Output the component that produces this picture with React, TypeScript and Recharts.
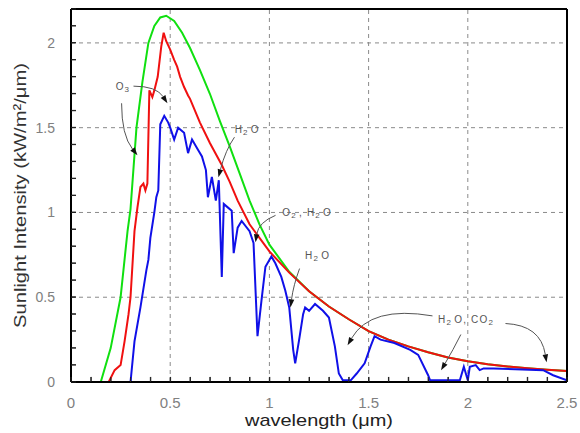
import React from 'react';
import { LineChart, Line, XAxis, YAxis, ReferenceLine, ReferenceDot, Label } from 'recharts';

// ---- Data ----
// Green: blackbody curve
const greenWavelength = [0.15, 0.2, 0.25, 0.285, 0.3, 0.33, 0.36, 0.39, 0.42, 0.45, 0.48, 0.52, 0.56, 0.6, 0.65, 0.7, 0.75, 0.8, 0.85, 0.9, 0.95, 1.0, 1.1, 1.2, 1.3, 1.4, 1.5, 1.6, 1.7, 1.8, 1.9, 2.0, 2.1, 2.2, 2.3, 2.4, 2.5];
const greenIntensity = [0, 0.2, 0.5, 0.89, 1.02, 1.5, 1.77, 2.0, 2.1, 2.15, 2.16, 2.13, 2.06, 1.97, 1.84, 1.7, 1.54, 1.39, 1.23, 1.07, 0.93, 0.81, 0.65, 0.535, 0.445, 0.37, 0.3, 0.25, 0.21, 0.175, 0.145, 0.122, 0.105, 0.092, 0.081, 0.072, 0.065];

// Red: above the atmosphere
const redWavelength = [0.19, 0.22, 0.25, 0.27, 0.29, 0.30, 0.32, 0.335, 0.35, 0.365, 0.375, 0.385, 0.395, 0.41, 0.42, 0.437, 0.455, 0.467, 0.48, 0.50, 0.52, 0.535, 0.55, 0.57, 0.59, 0.60, 0.65, 0.70, 0.76, 0.80, 0.84, 0.90, 0.95, 1.0, 1.1, 1.2, 1.3, 1.4, 1.5, 1.6, 1.7, 1.8, 1.9, 2.0, 2.1, 2.2, 2.3, 2.4, 2.5];
const redIntensity = [0, 0.07, 0.10, 0.24, 0.40, 0.50, 0.89, 1.03, 1.15, 1.17, 1.13, 1.17, 1.72, 1.68, 1.72, 1.80, 1.98, 2.06, 2.01, 1.96, 1.90, 1.86, 1.80, 1.74, 1.69, 1.67, 1.53, 1.41, 1.28, 1.18, 1.07, 0.93, 0.85, 0.77, 0.645, 0.535, 0.445, 0.37, 0.3, 0.25, 0.21, 0.175, 0.145, 0.122, 0.105, 0.092, 0.081, 0.072, 0.065];

// Blue: at sea level
const blueWavelength = [0.30, 0.32, 0.35, 0.38, 0.39, 0.40, 0.42, 0.43, 0.44, 0.45, 0.47, 0.49, 0.50, 0.52, 0.54, 0.57, 0.59, 0.61, 0.64, 0.66, 0.68, 0.69, 0.71, 0.73, 0.745, 0.76, 0.77, 0.79, 0.81, 0.82, 0.84, 0.86, 0.90, 0.92, 0.94, 0.96, 0.98, 1.01, 1.03, 1.06, 1.08, 1.10, 1.12, 1.13, 1.15, 1.17, 1.18, 1.20, 1.23, 1.27, 1.30, 1.33, 1.35, 1.37, 1.41, 1.44, 1.48, 1.51, 1.53, 1.56, 1.63, 1.71, 1.75, 1.80, 1.81, 1.96, 1.98, 2.00, 2.01, 2.04, 2.06, 2.08, 2.13, 2.38, 2.43, 2.50];
const blueIntensity = [0, 0.24, 0.44, 0.66, 0.72, 0.85, 1.0, 1.09, 1.13, 1.52, 1.57, 1.53, 1.50, 1.43, 1.50, 1.47, 1.35, 1.43, 1.37, 1.33, 1.25, 1.09, 1.21, 1.07, 1.19, 0.62, 1.05, 1.03, 1.01, 0.76, 0.91, 0.95, 0.89, 0.82, 0.27, 0.48, 0.68, 0.74, 0.70, 0.62, 0.54, 0.44, 0.19, 0.11, 0.25, 0.40, 0.44, 0.42, 0.46, 0.42, 0.38, 0.21, 0.05, 0.01, 0.01, 0.05, 0.11, 0.21, 0.27, 0.25, 0.23, 0.19, 0.16, 0.04, 0.01, 0.01, 0.09, 0.01, 0.09, 0.10, 0.07, 0.08, 0.08, 0.07, 0.04, 0.01];

// Axis ticks
const xTicks = Array.from({ length: 26 }, (_, i) => i / 10);
const yTicks = Array.from({ length: 23 }, (_, i) => i / 10);
const xGrid = [0.5, 1, 1.5, 2];
const yGrid = [0.5, 1, 1.5, 2];
const X_MAX = 2.5;
const Y_MAX = 2.2;
// inward minor tick mark extents (data units)
const EPS = 0.002;
const xTickLen = 0.03;
const yTickLen = 0.025;

// Annotation labels (data coordinates, "_" marks a subscript digit)
const labelText = ['O_3', 'H_2O', 'O_2, H_2O', 'H_2O', 'H_2O, CO_2'];
const labelX = [0.225, 0.825, 1.065, 1.18, 1.85];
const labelY = [1.745, 1.49, 1.0, 0.75, 0.37];

// Annotation arrows (data coordinates)
const arrowStartX = [0.315, 0.255, 0.824, 1.031, 1.152, 1.822, 1.965, 2.19];
const arrowStartY = [1.745, 1.644, 1.444, 0.983, 0.669, 0.39, 0.28, 0.345];
const arrowCtrlX = [0.43, 0.255, 0.779, 0.945, 1.121, 1.51, 1.925, 2.367];
const arrowCtrlY = [1.745, 1.455, 1.368, 0.942, 0.57, 0.452, 0.187, 0.335];
const arrowTipX = [0.486, 0.335, 0.743, 0.93, 1.106, 1.394, 1.865, 2.397];
const arrowTipY = [1.644, 1.337, 1.208, 0.824, 0.44, 0.217, 0.069, 0.116];

const toRows = (xs: number[], ys: number[]) => xs.map((x, i) => ({ x, y: ys[i] }));
const greenData = toRows(greenWavelength, greenIntensity);
const redData = toRows(redWavelength, redIntensity);
const blueData = toRows(blueWavelength, blueIntensity);

const FONT = '"Liberation Sans", Arial, Helvetica, sans-serif';
const X_TICK_MARGIN = 15;
const Y_TICK_MARGIN = 16;
const MINOR_LEN = 5;

const fmt = (v: number) => (Math.abs(v * 2 - Math.round(v * 2)) < 1e-9 ? String(v) : '');

// custom axis ticks: inward tick mark + label on major values
const XTick = (p: any) => {
  const v = p.payload ? p.payload.value : 0;
  const edge = p.y - X_TICK_MARGIN;
  const label = fmt(v);
  return (
    <g>
      <line x1={p.x} x2={p.x} y1={edge} y2={edge - MINOR_LEN} stroke="#222" strokeWidth={1} />
      {label !== '' && (
        <text x={p.x} y={p.y} dy="0.71em" textAnchor="middle" fill="#808080" fontSize={15} fontFamily={FONT}>
          {label}
        </text>
      )}
    </g>
  );
};

const YTick = (p: any) => {
  const v = p.payload ? p.payload.value : 0;
  const edge = p.x + Y_TICK_MARGIN;
  const label = fmt(v);
  return (
    <g>
      <line x1={edge} x2={edge + MINOR_LEN} y1={p.y} y2={p.y} stroke="#222" strokeWidth={1} />
      {label !== '' && (
        <text x={p.x} y={p.y} dy="0.355em" textAnchor="end" fill="#808080" fontSize={14} fontFamily={FONT}>
          {label}
        </text>
      )}
    </g>
  );
};

function tickShape(props: any) {
  const { x1, y1, x2, y2 } = props;
  return <line x1={x1} y1={y1} x2={x2} y2={y2} stroke="#222" strokeWidth={1} />;
}

function renderLabelText(text: string, x: number, y: number) {
  const parts: React.ReactNode[] = [];
  let sub = false;
  let key = 0;
  for (let i = 0; i < text.length; i++) {
    const ch = text[i];
    if (ch === '_') {
      sub = true;
      continue;
    }
    if (sub) {
      parts.push(
        <tspan key={key++} dy={3} fontSize={8}>
          {ch}
        </tspan>
      );
      parts.push(
        <tspan key={key++} dy={-3}>
          {'\u200A'}
        </tspan>
      );
      sub = false;
    } else {
      parts.push(<tspan key={key++}>{ch}</tspan>);
    }
  }
  return (
    <text x={x} y={y} fontSize={10} fill="#555" fontFamily={FONT} letterSpacing={1.2} dominantBaseline="central">
      {parts}
    </text>
  );
}

function makeLabelShape(i: number) {
  return (props: any) => renderLabelText(labelText[i], props.cx, props.cy);
}

function makeArrowShape(i: number) {
  return (props: any) => {
    const { x1, y1, x2, y2 } = props;
    const kx = (x2 - x1) / (arrowTipX[i] - arrowStartX[i]);
    const ky = (y2 - y1) / (arrowTipY[i] - arrowStartY[i]);
    const cx = x1 + kx * (arrowCtrlX[i] - arrowStartX[i]);
    const cy = y1 + ky * (arrowCtrlY[i] - arrowStartY[i]);
    const dx = x2 - cx;
    const dy = y2 - cy;
    const len = Math.hypot(dx, dy) || 1;
    const ux = dx / len;
    const uy = dy / len;
    const L = 8;
    const W = 2.8;
    const bx = x2 - ux * L;
    const by = y2 - uy * L;
    const pts = `${x2},${y2} ${bx - uy * W},${by + ux * W} ${bx + uy * W},${by - ux * W}`;
    return (
      <g>
        <path d={`M${x1},${y1} Q${cx},${cy} ${bx},${by}`} fill="none" stroke="#555" strokeWidth={1} />
        <polygon points={pts} fill="#111" />
      </g>
    );
  };
}

const YTitle = (props: any) => {
  const vb = props.viewBox || { x: 0, y: 9, width: 71, height: 373 };
  const cx = vb.x + 20;
  const cy = vb.y + vb.height / 2;
  return (
    <text
      x={cx}
      y={cy}
      transform={`rotate(-90, ${cx}, ${cy})`}
      textAnchor="middle"
      dominantBaseline="central"
      fontSize={17}
      fill="#333"
      fontFamily={FONT}
      textLength={265}
      lengthAdjust="spacingAndGlyphs"
    >
      Sunlight Intensity (kW/m²/μm)
    </text>
  );
};

const XTitle = (props: any) => {
  const vb = props.viewBox || { x: 71, y: 382, width: 496, height: 51 };
  const cx = vb.x + vb.width / 2;
  const cy = vb.y + 44;
  return (
    <text
      x={cx}
      y={cy}
      textAnchor="middle"
      fontSize={17}
      fill="#222"
      fontFamily={FONT}
      textLength={148}
      lengthAdjust="spacingAndGlyphs"
    >
      wavelength (μm)
    </text>
  );
};

export default function App() {
  return (
    <div style={{ position: 'absolute', left: 0, top: 0, width: 580, height: 433, background: '#fff' }}>
      <LineChart width={580} height={433} margin={{ top: 9, right: 13, bottom: 0, left: 0 }} style={{ fontFamily: FONT }}>
        <XAxis
          type="number"
          dataKey="x"
          domain={[0, X_MAX]}
          ticks={xTicks}
          interval={0}
          height={51}
          tickSize={0}
          tickMargin={X_TICK_MARGIN}
          axisLine={{ stroke: '#000', strokeWidth: 2 }}
          tickLine={false}
          tick={XTick}
          allowDataOverflow
        >
          <Label content={XTitle} />
        </XAxis>
        <YAxis
          type="number"
          dataKey="y"
          domain={[0, Y_MAX]}
          ticks={yTicks}
          interval={0}
          width={71}
          tickSize={0}
          tickMargin={Y_TICK_MARGIN}
          axisLine={{ stroke: '#000', strokeWidth: 2 }}
          tickLine={false}
          tick={YTick}
          allowDataOverflow
        >
          <Label content={YTitle} />
        </YAxis>

        {xGrid.map((v) => (
          <ReferenceLine key={`gx${v}`} x={v} stroke="#8a8a8a" strokeDasharray="4 4" strokeWidth={1} />
        ))}
        {yGrid.map((v) => (
          <ReferenceLine key={`gy${v}`} y={v} stroke="#8a8a8a" strokeDasharray="4 4" strokeWidth={1} />
        ))}

        {xTicks.map((v, i) => (
          <ReferenceLine
            key={`tickx${i}`}
            segment={[
              { x: v + EPS, y: EPS },
              { x: v + EPS, y: xTickLen },
            ]}
            shape={tickShape}
            ifOverflow="visible"
          />
        ))}
        {yTicks.map((v, i) => (
          <ReferenceLine
            key={`ticky${i}`}
            segment={[
              { x: EPS, y: v + EPS },
              { x: yTickLen, y: v + EPS },
            ]}
            shape={tickShape}
            ifOverflow="visible"
          />
        ))}

        <Line data={greenData} dataKey="y" type="linear" stroke="#10e010" strokeWidth={2} dot={false} isAnimationActive={false} />
        <Line data={redData} dataKey="y" type="linear" stroke="#f01010" strokeWidth={2} dot={false} isAnimationActive={false} />
        <Line data={blueData} dataKey="y" type="linear" stroke="#1010e8" strokeWidth={2} dot={false} isAnimationActive={false} />

        {arrowStartX.map((_, i) => (
          <ReferenceLine
            key={`ar${i}`}
            segment={[
              { x: arrowStartX[i], y: arrowStartY[i] },
              { x: arrowTipX[i], y: arrowTipY[i] },
            ]}
            shape={makeArrowShape(i)}
            ifOverflow="visible"
          />
        ))}
        {labelText.map((_, i) => (
          <ReferenceDot key={`lb${i}`} x={labelX[i]} y={labelY[i]} r={1} shape={makeLabelShape(i)} ifOverflow="visible" />
        ))}

        <ReferenceLine x={X_MAX} stroke="#000" strokeWidth={2} ifOverflow="visible" />
        <ReferenceLine y={Y_MAX} stroke="#000" strokeWidth={2} ifOverflow="visible" />
      </LineChart>
    </div>
  );
}
